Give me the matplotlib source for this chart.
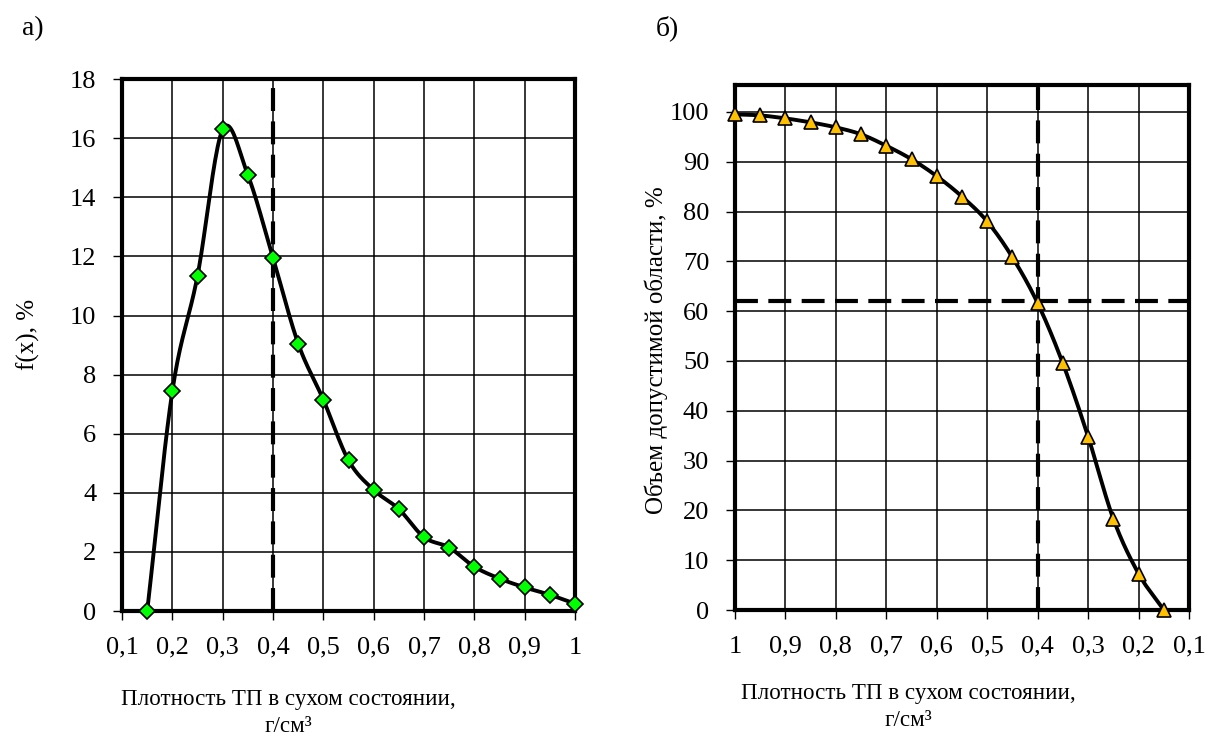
import numpy as np
import matplotlib.pyplot as plt
from matplotlib.ticker import FuncFormatter

plt.rcParams['font.family'] = ['Liberation Serif', 'DejaVu Serif']

# density of the dry material, g/cm3
density = [0.15, 0.2, 0.25, 0.3, 0.35, 0.4, 0.45, 0.5, 0.55, 0.6,
           0.65, 0.7, 0.75, 0.8, 0.85, 0.9, 0.95, 1.0]
# distribution f(x), %
fx = [0.0, 7.45, 11.35, 16.3, 14.75, 11.95, 9.05, 7.15, 5.1, 4.1,
      3.45, 2.5, 2.15, 1.5, 1.1, 0.8, 0.55, 0.25]
# volume of admissible region, %
volume = [0.0, 7.3, 18.3, 34.8, 49.5, 61.6, 70.8, 78.0, 83.0, 87.1,
          90.5, 93.2, 95.5, 96.9, 97.9, 98.7, 99.3, 99.5]
x_cut = 0.4
v_cut = 62.0

x_ticks = [0.1, 0.2, 0.3, 0.4, 0.5, 0.6, 0.7, 0.8, 0.9, 1.0]
left_yticks = list(range(0, 19, 2))
right_yticks = list(range(0, 101, 10))

xlabel_text = 'Плотность ТП в сухом состоянии,\nг/см\u00b3'


def smooth(x, y, n=20):
    # Catmull-Rom curve through the points, like a smoothed line in Excel
    x = np.asarray(x, float)
    y = np.asarray(y, float)
    px = np.concatenate([[2 * x[0] - x[1]], x, [2 * x[-1] - x[-2]]])
    py = np.concatenate([[2 * y[0] - y[1]], y, [2 * y[-1] - y[-2]]])
    xs, ys = [], []
    t = np.linspace(0, 1, n, endpoint=False)
    for i in range(1, len(px) - 2):
        for p, out in ((px, xs), (py, ys)):
            p0, p1, p2, p3 = p[i - 1], p[i], p[i + 1], p[i + 2]
            out.extend(0.5 * (2 * p1 + (-p0 + p2) * t
                              + (2 * p0 - 5 * p1 + 4 * p2 - p3) * t ** 2
                              + (-p0 + 3 * p1 - 3 * p2 + p3) * t ** 3))
    xs.append(x[-1])
    ys.append(y[-1])
    return np.array(xs), np.array(ys)


def comma(v, pos):
    s = '{:.1f}'.format(v) if abs(v - round(v)) > 1e-9 else '{:.0f}'.format(v)
    return s.replace('.', ',')


def style(ax):
    ax.grid(True, color='black', linewidth=1.1)
    ax.set_axisbelow(True)
    for sp in ax.spines.values():
        sp.set_linewidth(3.0)
    ax.tick_params(direction='out', length=6.5, width=1, labelsize=19,
                   top=False, right=False, pad=12)
    ax.xaxis.set_major_formatter(FuncFormatter(comma))


fig = plt.figure(figsize=(12.18, 7.47), dpi=100)
ax1 = fig.add_axes([0.1002, 0.182, 0.3719, 0.712])
ax2 = fig.add_axes([0.6034, 0.1834, 0.3728, 0.7028])

# a) distribution
sx, sy = smooth(density, fx)
ax1.plot(sx, sy, color='black', linewidth=2.8, zorder=3)
ax1.plot(density, fx, linestyle='none', marker='D', markersize=8.5,
         markerfacecolor='#00FF00', markeredgecolor='black',
         markeredgewidth=1.2, zorder=4, clip_on=False)
ax1.axvline(x_cut, color='black', linewidth=3, dashes=(5.5, 2.5), zorder=2)
ax1.set_xlim(0.1, 1.0)
ax1.set_ylim(0, 18)
ax1.set_xticks(x_ticks)
ax1.set_yticks(left_yticks)
style(ax1)
ax1.set_ylabel('f(x), %', fontsize=18)
ax1.yaxis.set_label_coords(-0.181, 0.52)

# b) admissible region volume
sx, sy = smooth(density, volume)
ax2.plot(sx, sy, color='black', linewidth=2.8, zorder=3)
ax2.plot(density, volume, linestyle='none', marker='^', markersize=9.5,
         markerfacecolor='#FFC000', markeredgecolor='black',
         markeredgewidth=1.2, zorder=4, clip_on=False)
ax2.axvline(x_cut, color='black', linewidth=3, dashes=(5.5, 2.5), zorder=2)
ax2.axhline(v_cut, color='black', linewidth=3, dashes=(5.5, 2.5), zorder=2)
ax2.set_xlim(1.0, 0.1)
ax2.set_ylim(0, 105.4)
ax2.set_xticks(x_ticks)
ax2.set_yticks(right_yticks)
style(ax2)
ax2.set_ylabel('Объем допустимой области, %', fontsize=18)
ax2.yaxis.set_label_coords(-0.148, 0.495)

# axis titles below both panels
fig.text(288 / 1218, 1 - 713 / 747, xlabel_text, fontsize=16.6,
         ha='center', va='center', linespacing=1.35)
fig.text(908 / 1218, 1 - 707 / 747, xlabel_text, fontsize=16.6,
         ha='center', va='center', linespacing=1.35)

fig.text(0.018, 0.962, 'а)', fontsize=20, va='center')
fig.text(0.538, 0.962, 'б)', fontsize=20, va='center')

fig.savefig('out.png', dpi=100)
